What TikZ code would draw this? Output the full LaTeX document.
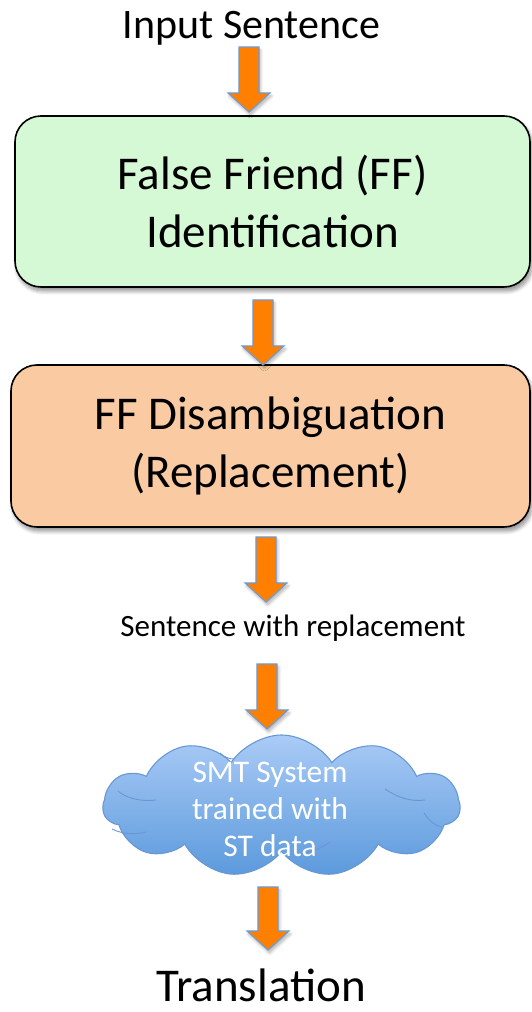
\documentclass[tikz,border=0pt]{standalone}
\usepackage{fontspec}
\setmainfont{Carlito}
\usetikzlibrary{calc,shapes.symbols,shadows.blur}

\definecolor{boxgreen}{RGB}{212,249,212}
\definecolor{boxpeach}{RGB}{250,203,162}
\definecolor{arroworange}{RGB}{255,128,0}
\definecolor{arrowedge}{RGB}{108,154,212}
\definecolor{cloudtop}{RGB}{170,203,246}
\definecolor{cloudbottom}{RGB}{92,154,220}
\definecolor{cloudedge}{RGB}{104,152,212}

\tikzset{
  stagebox/.style={draw=black, line width=1.6pt, rounded corners=26pt,
    align=center, inner sep=0pt,
    font=\fontsize{47}{58}\selectfont,
    blur shadow={shadow xshift=2pt, shadow yshift=-4pt, shadow blur steps=8,
      shadow blur radius=4pt, shadow opacity=45}},
  plainlabel/.style={anchor=base, inner sep=0pt},
  arrowbody/.style={fill=arroworange, draw=arrowedge, line width=1.1pt,
    line join=miter,
    blur shadow={shadow xshift=1.5pt, shadow yshift=-3pt, shadow blur steps=6,
      shadow blur radius=3pt, shadow opacity=30}},
  cloudshape/.style={cloud, cloud puffs=11, cloud puff arc=115, aspect=2.5,
    draw=cloudedge, line width=1.1pt, top color=cloudtop,
    bottom color=cloudbottom, inner sep=0pt},
  cloudtext/.style={text=white, align=center, inner sep=0pt,
    font=\fontsize{31.5}{37}\selectfont},
  cloudcrease/.style={draw=cloudedge, line width=0.9pt}
}

% block arrow pointing down from coordinate #1 (tail centre) to #2 (tip)
\newcommand\flowarrow[2]{%
  \path[arrowbody] ($(#1)+(-10,0)$) -- ($(#1)+(10,0)$) -- ($(#2)+(10,19)$)
    -- ($(#2)+(21,19)$) -- (#2) -- ($(#2)+(-21,19)$) -- ($(#2)+(-10,19)$) -- cycle;}

\begin{document}
\begin{tikzpicture}[x=1pt,y=1pt]
  \useasboundingbox (0,0) rectangle (531,1012);

  % input / output labels
  \node[plainlabel, font=\fontsize{42}{50}\selectfont] (input) at (251.5,973) {Input Sentence};
  \node[plainlabel, font=\fontsize{47}{56}\selectfont] (output) at (261,10) {Translation};
  \node[plainlabel, font=\fontsize{31}{37}\selectfont] (replaced) at (293,375) {Sentence with replacement};

  % processing stages
  \node[stagebox, fill=boxgreen, minimum width=515pt, minimum height=171pt]
    (ident) at (272.5,810.5) {False Friend (FF)\\Identification};
  \node[stagebox, fill=boxpeach, minimum width=519pt, minimum height=162pt]
    (disamb) at (270.5,566) {FF Disambiguation\\(Replacement)};

  % translation system
  \node[cloudshape, minimum width=357pt, minimum height=142pt] (smt) at (281.5,206) {};
  \path[cloudcrease] (118,221) .. controls (126,214) and (140,210) .. (156,212);
  \path[cloudcrease] (112,183) .. controls (122,178) and (134,177) .. (146,180);
  \path[cloudcrease] (220,259) .. controls (224,255) and (229,253) .. (234,253);
  \path[cloudcrease] (385,223) .. controls (398,214) and (412,210) .. (425,212);
  \path[cloudcrease] (424,199) .. controls (430,190) and (436,186) .. (442,185);
  \path[cloudcrease] (300,158) .. controls (312,160) and (322,164) .. (330,170);
  \node[cloudtext] (smttext) at (270,203) {SMT System\\trained with\\ST data};

  % arrow end points
  \coordinate (a1s) at (249,965);  \coordinate (a1e) at (249,900);
  \coordinate (a2s) at (263,712);  \coordinate (a2e) at (263,647);
  \coordinate (a3s) at (266,475);  \coordinate (a3e) at (266,410);
  \coordinate (a4s) at (267,348);  \coordinate (a4e) at (267,283);
  \coordinate (a5s) at (268,125);  \coordinate (a5e) at (268,62);

  \flowarrow{a1s}{a1e}
  \flowarrow{a2s}{a2e}
  \flowarrow{a3s}{a3e}
  \flowarrow{a4s}{a4e}
  \flowarrow{a5s}{a5e}
\end{tikzpicture}
\end{document}
